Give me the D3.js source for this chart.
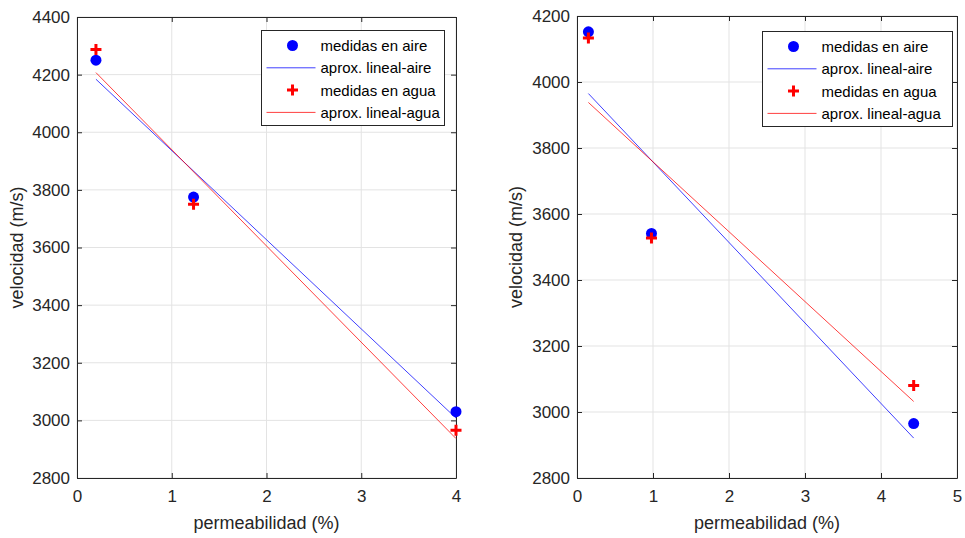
<!DOCTYPE html>
<html>
<head>
<meta charset="utf-8">
<script src="https://cdn.jsdelivr.net/npm/d3@7"></script>
<style>
  body { margin: 0; background: #fff; }
  text { font-family: "Liberation Sans", Arial, sans-serif; }
</style>
</head>
<body>
<script>
// DATA
// =============================================================================

// left panel
const leftAireX = [0.2, 1.23, 4.0];
const leftAireY = [4250, 3775, 3030];
const leftAguaX = [0.2, 1.23, 4.0];
const leftAguaY = [4287, 3750, 2966];
const leftFitAire = [[0.2, 4184], [4.0, 3008]];
const leftFitAgua = [[0.2, 4207], [4.0, 2937]];
const leftXTicks = [0, 1, 2, 3, 4];
const leftYTicks = [2800, 3000, 3200, 3400, 3600, 3800, 4000, 4200, 4400];

// right panel
const rightAireX = [0.15, 0.98, 4.43];
const rightAireY = [4152, 3541, 2965];
const rightAguaX = [0.15, 0.98, 4.43];
const rightAguaY = [4133, 3527, 3080];
const rightFitAire = [[0.15, 3965], [4.43, 2921]];
const rightFitAgua = [[0.15, 3938], [4.43, 3032]];
const rightXTicks = [0, 1, 2, 3, 4, 5];
const rightYTicks = [2800, 3000, 3200, 3400, 3600, 3800, 4000, 4200];

const legendLabels = ["medidas en aire", "aprox. lineal-aire", "medidas en agua", "aprox. lineal-agua"];

// CONFIG
// =============================================================================

const width = 965;
const height = 538;
const axisColor = "#262626";
const gridColor = "#e3e3e3";
const blue = "#0000ff";
const red = "#ff0000";

const svg = d3.select("body")
    .append("svg")
    .attr("width", width)
    .attr("height", height);

// plus marker path
function plusPath(s, w) {
    return `M${-w},${-s}H${w}V${-w}H${s}V${w}H${w}V${s}H${-w}V${w}H${-s}V${-w}H${-w}Z`;
}

function drawPanel(p) {
    const x = d3.scaleLinear().domain(p.xDomain).range([p.left, p.right]);
    const y = d3.scaleLinear().domain(p.yDomain).range([p.bottom, p.top]);
    const g = svg.append("g");
    const fmt = d3.format("d");

    // grid
    g.selectAll(".gx").data(p.xTicks).enter().append("line")
        .attr("x1", d => x(d)).attr("x2", d => x(d))
        .attr("y1", p.top).attr("y2", p.bottom)
        .attr("stroke", gridColor).attr("stroke-width", 1);
    g.selectAll(".gy").data(p.yTicks).enter().append("line")
        .attr("y1", d => y(d)).attr("y2", d => y(d))
        .attr("x1", p.left).attr("x2", p.right)
        .attr("stroke", gridColor).attr("stroke-width", 1);

    // axes (ticks inward, mirrored)
    const axes = [
        [d3.axisBottom(x).tickValues(p.xTicks).tickFormat(fmt).tickSize(-5).tickPadding(12), `translate(0,${p.bottom})`, true],
        [d3.axisTop(x).tickValues(p.xTicks).tickSize(-5), `translate(0,${p.top})`, false],
        [d3.axisLeft(y).tickValues(p.yTicks).tickFormat(fmt).tickSize(-5).tickPadding(7), `translate(${p.left},0)`, true],
        [d3.axisRight(y).tickValues(p.yTicks).tickSize(-5), `translate(${p.right},0)`, false]
    ];
    axes.forEach(([ax, tr, labels]) => {
        const a = g.append("g").attr("transform", tr).call(ax.tickSizeOuter(0));
        a.select(".domain").attr("stroke", axisColor);
        a.selectAll(".tick line").attr("stroke", axisColor);
        a.selectAll(".tick text")
            .attr("fill", axisColor)
            .style("font-size", "17px")
            .style("display", labels ? null : "none");
    });

    // fit lines
    const line = d3.line().x(d => x(d[0])).y(d => y(d[1]));
    g.append("path").attr("d", line(p.fitAire)).attr("fill", "none")
        .attr("stroke", blue).attr("stroke-width", 1).attr("opacity", 0.75);
    g.append("path").attr("d", line(p.fitAgua)).attr("fill", "none")
        .attr("stroke", red).attr("stroke-width", 1).attr("opacity", 0.75);

    // markers
    g.selectAll(".aire").data(p.aireX).enter().append("circle")
        .attr("cx", d => x(d)).attr("cy", (d, i) => y(p.aireY[i]))
        .attr("r", 5.5).attr("fill", blue);
    g.selectAll(".agua").data(p.aguaX).enter().append("path")
        .attr("transform", (d, i) => `translate(${x(d)},${y(p.aguaY[i])})`)
        .attr("d", plusPath(5.5, 1.5)).attr("fill", red);

    // axis titles
    g.append("text")
        .attr("x", (p.left + p.right) / 2).attr("y", 529)
        .attr("text-anchor", "middle").attr("fill", axisColor)
        .style("font-size", "18px").text("permeabilidad (%)");
    g.append("text")
        .attr("transform", `translate(${p.yTitleX},${(p.top + p.bottom) / 2}) rotate(-90)`)
        .attr("text-anchor", "middle").attr("fill", axisColor)
        .style("font-size", "18px").text("velocidad (m/s)");

    // legend
    const lg = g.append("g").attr("transform", `translate(${p.legX},${p.legY})`);
    lg.append("rect").attr("width", p.legW).attr("height", 95)
        .attr("fill", "#fff").attr("stroke", axisColor).attr("stroke-width", 1);
    legendLabels.forEach((lab, i) => {
        const cy = 15 + i * 22.3;
        if (i === 0) {
            lg.append("circle").attr("cx", 31).attr("cy", cy).attr("r", 5.5).attr("fill", blue);
        } else if (i === 2) {
            lg.append("path").attr("transform", `translate(31,${cy})`)
                .attr("d", plusPath(5.5, 1.5)).attr("fill", red);
        } else {
            lg.append("line").attr("x1", 5).attr("x2", 54).attr("y1", cy).attr("y2", cy)
                .attr("stroke", i === 1 ? blue : red).attr("opacity", 0.75);
        }
        lg.append("text").attr("x", 59).attr("y", cy + 5.5)
            .attr("fill", "#000").style("font-size", "15px").text(lab);
    });
}

drawPanel({
    left: 77, right: 456, top: 17, bottom: 478,
    xDomain: [0, 4], yDomain: [2800, 4400],
    xTicks: leftXTicks, yTicks: leftYTicks,
    aireX: leftAireX, aireY: leftAireY, aguaX: leftAguaX, aguaY: leftAguaY,
    fitAire: leftFitAire, fitAgua: leftFitAgua,
    yTitleX: 23, legX: 261.5, legY: 30.5, legW: 183
});

drawPanel({
    left: 577, right: 957, top: 16, bottom: 478,
    xDomain: [0, 5], yDomain: [2800, 4200],
    xTicks: rightXTicks, yTicks: rightYTicks,
    aireX: rightAireX, aireY: rightAireY, aguaX: rightAguaX, aguaY: rightAguaY,
    fitAire: rightFitAire, fitAgua: rightFitAgua,
    yTitleX: 522, legX: 762.5, legY: 31.5, legW: 190
});
</script>
</body>
</html>
